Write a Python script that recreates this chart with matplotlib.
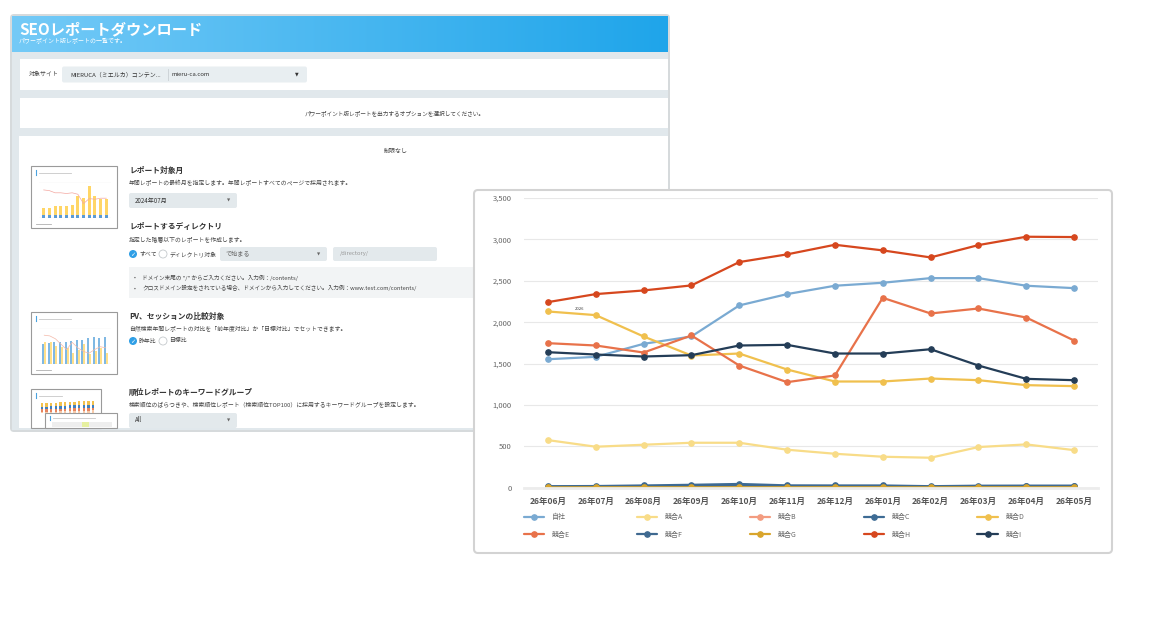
import numpy as np
import matplotlib.pyplot as plt
from matplotlib.patches import FancyBboxPatch, Rectangle, Circle
from matplotlib.colors import LinearSegmentedColormap

plt.rcParams['font.family'] = ['Noto Sans CJK JP', 'DejaVu Sans']

# メインチャートのデータ
months = ['26年06月', '26年07月', '26年08月', '26年09月', '26年10月', '26年11月',
          '26年12月', '26年01月', '26年02月', '26年03月', '26年04月', '26年05月']
series_names = ['自社', '競合A', '競合B', '競合C', '競合D',
                '競合E', '競合F', '競合G', '競合H', '競合I']
jisha = [1552, 1581, 1738, 1827, 2202, 2339, 2440, 2476, 2532, 2532, 2440, 2411]
kyogo_a = [575, 495, 519, 543, 543, 459, 410, 374, 362, 491, 523, 454]
kyogo_b = [0, 0, 0, 0, 0, 0, 0, 0, 0, 0, 0, 0]
kyogo_c = [18, 20, 27, 35, 45, 28, 27, 27, 18, 24, 25, 25]
kyogo_d = [2129, 2085, 1827, 1597, 1621, 1428, 1283, 1283, 1319, 1299, 1239, 1227]
kyogo_e = [1746, 1718, 1633, 1839, 1476, 1275, 1356, 2294, 2105, 2165, 2056, 1778]
kyogo_f = [10, 12, 16, 20, 26, 16, 16, 16, 10, 14, 15, 15]
kyogo_g = [4, 5, 5, 5, 5, 5, 5, 5, 4, 5, 5, 5]
kyogo_h = [2242, 2339, 2383, 2444, 2726, 2819, 2935, 2867, 2782, 2931, 3032, 3028]
kyogo_i = [1637, 1609, 1585, 1601, 1718, 1726, 1621, 1621, 1673, 1476, 1315, 1299]
yticks = [0, 500, 1000, 1500, 2000, 2500, 3000, 3500]

series_values = [jisha, kyogo_a, kyogo_b, kyogo_c, kyogo_d,
                 kyogo_e, kyogo_f, kyogo_g, kyogo_h, kyogo_i]
series_colors = ['#7aaad2', '#f8dc88', '#f39c80', '#3d6b94', '#f0c04e',
                 '#e8724a', '#3f6990', '#d9a52c', '#d6471e', '#243d57']

# サムネイル用の小さなデータ
thumb1_blue = [8, 8, 8, 8, 8, 8, 8, 8, 8, 8, 8, 8]
thumb1_yellow = [20, 20, 24, 25, 25, 27, 52, 48, 80, 52, 46, 45]
thumb1_line = [78, 76, 70, 70, 68, 70, 66, 40, 54, 52, 55, 55]
thumb2_blue = [55, 58, 60, 60, 62, 64, 66, 68, 72, 74, 73, 74]
thumb2_yellow = [60, 62, 50, 48, 45, 30, 40, 55, 28, 35, 45, 30]
thumb2_line = [80, 78, 70, 55, 40, 60, 45, 35, 30, 40, 48, 45]
thumb3_values = [62, 62, 63, 63, 64, 65, 66, 66, 67, 67, 67, 68]

W, H = 1160, 618
fig = plt.figure(figsize=(W / 100, H / 100), dpi=100)
fig.patch.set_facecolor('white')

bg = fig.add_axes([0, 0, 1, 1])
bg.set_xlim(0, W)
bg.set_ylim(H, 0)
bg.axis('off')


def px_axes(x0, y0, x1, y1):
    return fig.add_axes([x0 / W, 1 - y1 / H, (x1 - x0) / W, (y1 - y0) / H])


def box(x0, y0, x1, y1, fc, ec='none', lw=0, r=0, z=1):
    if r:
        p = FancyBboxPatch((x0, y0), x1 - x0, y1 - y0, boxstyle=f'round,pad=0,rounding_size={r}',
                           fc=fc, ec=ec, lw=lw, zorder=z)
    else:
        p = Rectangle((x0, y0), x1 - x0, y1 - y0, fc=fc, ec=ec, lw=lw, zorder=z)
    bg.add_patch(p)


# 背面パネル
box(10, 14, 670, 432, '#d6dadc', r=4, z=0)
box(12, 16, 668, 430, '#e1e8ec', z=1)
grad = LinearSegmentedColormap.from_list('hdr', ['#74caf7', '#1fa5ea'])
bg.imshow(np.linspace(0, 1, 256).reshape(1, -1), cmap=grad, aspect='auto',
          extent=(12, 668, 52, 16), zorder=2)
bg.text(19, 29, 'SEOレポートダウンロード', color='white', fontsize=11, fontweight='bold',
        va='center', zorder=3)
bg.text(19, 40.5, 'パワーポイント版レポートの一覧です。', color='white', fontsize=4.3,
        va='center', zorder=3)

box(20, 59, 668, 90, 'white', z=2)
bg.text(29, 74.5, '対象サイト', fontsize=4.3, color='#444', va='center', zorder=3)
box(62, 66.5, 307, 82.5, '#e8eef1', r=2, z=3)
bg.text(70, 74.5, 'MIERUCA（ミエルカ）コンテン...', fontsize=4.3, color='#333', va='center', zorder=4)
bg.plot([167.5, 167.5], [69, 80], color='#c9d0d4', lw=0.6, zorder=4)
bg.text(172, 74.5, 'mieru-ca.com', fontsize=4.3, color='#333', va='center', zorder=4)
bg.text(297, 74, '▼', fontsize=3.4, color='#333', ha='center', va='center',
        family=['DejaVu Sans'], zorder=4)

box(20, 98, 668, 128, 'white', z=2)
bg.text(395, 113, 'パワーポイント版レポートを出力するオプションを選択してください。',
        fontsize=4.1, color='#444', ha='center', va='center', zorder=3)

box(19, 136, 668, 428, 'white', z=2)
bg.text(396, 151, '制限なし', fontsize=4.3, color='#444', ha='center', va='center', zorder=3)

title_kw = dict(fontsize=5.6, fontweight='bold', color='#333', va='center', zorder=3)
sub_kw = dict(fontsize=4.2, color='#444', va='center', zorder=3)


def dropdown(x0, y0, x1, y1, label, color='#333'):
    box(x0, y0, x1, y1, '#e3e9ec', r=2, z=3)
    bg.text(x0 + 6, (y0 + y1) / 2, label, fontsize=4.4, color=color, va='center', zorder=4)
    bg.text(x1 - 8, (y0 + y1) / 2, '▼', fontsize=3, color='#666', ha='center', va='center',
            family=['DejaVu Sans'], zorder=4)


def radio(x, y, checked):
    if checked:
        bg.add_patch(Circle((x, y), 4, fc='#2f9fe6', ec='none', zorder=4))
        bg.text(x, y + 0.3, '✓', fontsize=4.5, color='white', ha='center', va='center',
                family=['DejaVu Sans'], fontweight='bold', zorder=5)
    else:
        bg.add_patch(Circle((x, y), 4, fc='white', ec='#c4c9cc', lw=0.6, zorder=4))


bg.text(129, 170, 'レポート対象月', **title_kw)
bg.text(129, 183, '年間レポートの最終月を指定します。年間レポートすべてのページで採用されます。', **sub_kw)
dropdown(129, 193, 237, 208, '2024年07月')

bg.text(129, 226, 'レポートするディレクトリ', **title_kw)
bg.text(129, 239, '指定した階層以下のレポートを作成します。', **sub_kw)
radio(133, 254, True)
bg.text(139, 254, 'すべて', **sub_kw)
radio(163, 254, False)
bg.text(169, 254, 'ディレクトリ対象', **sub_kw)
dropdown(220, 247, 327, 261, 'で始まる', color='#666')
box(333, 247, 437, 261, '#e3e9ec', r=2, z=3)
bg.text(340, 254, '/directory/', fontsize=4.2, color='#999', va='center', zorder=4)
box(129, 267, 668, 298, '#f2f4f5', z=3)
bg.text(134, 277.5, '•', fontsize=4, color='#555', va='center', zorder=4)
bg.text(142, 277.5, 'ドメイン末尾の "/" からご入力ください。入力例：/contents/', fontsize=4.1,
        color='#444', va='center', zorder=4)
bg.text(134, 288, '•', fontsize=4, color='#555', va='center', zorder=4)
bg.text(142, 288, 'クロスドメイン設定をされている場合、ドメインから入力してください。入力例：www.test.com/contents/',
        fontsize=4.1, color='#444', va='center', zorder=4)

bg.text(129, 316.5, 'PV、セッションの比較対象', **title_kw)
bg.text(129, 328.5, '自然検索年間レポートの対比を「前年度対比」か「目標対比」でセットできます。', **sub_kw)
radio(133, 341, True)
bg.text(139, 341, '昨年比', **sub_kw)
radio(163, 341, False)
bg.text(169, 341, '目標比', **sub_kw)

bg.text(129, 392.5, '順位レポートのキーワードグループ', **title_kw)
bg.text(129, 404.5, '検索順位のばらつきや、検索順位レポート（検索順位TOP100）に採用するキーワードグループを設定します。',
        **sub_kw)
dropdown(129, 413, 237, 428, 'All')


# サムネイル
def thumb(x0, y0, x1, y1):
    box(x0, y0, x1, y1, 'white', ec='#9a9a9a', lw=0.8, z=3)
    ax = px_axes(x0 + 8, y0 + 16, x1 - 6, y1 - 10)
    ax.set_facecolor('none')
    ax.tick_params(left=False, bottom=False, labelleft=False, labelbottom=False)
    for s in ax.spines.values():
        s.set_visible(False)
    ax.grid(axis='y', color='#eeeeee', lw=0.3)
    ax.set_axisbelow(True)
    bg.plot([x0 + 5, x0 + 5], [y0 + 4, y0 + 9], color='#4aa3df', lw=0.8, zorder=4)
    bg.plot([x0 + 8, x0 + 40], [y0 + 6.5, y0 + 6.5], color='#c8c8c8', lw=0.6, zorder=4)
    bg.plot([x0 + 5, x0 + 20], [y1 - 4, y1 - 4], color='#b0b0b0', lw=0.6, zorder=4)
    return ax


xs = np.arange(len(thumb1_blue))
t1 = thumb(31, 166, 117, 228)
t1.bar(xs, thumb1_blue, width=0.5, color='#5b9bd5')
t1.bar(xs, thumb1_yellow, bottom=thumb1_blue, width=0.5, color='#ffd666')
t1.plot(xs, thumb1_line, color='#f4a7a0', lw=0.5)
t1.set_ylim(0, 100)

t2 = thumb(31, 312, 117, 374)
t2.bar(xs - 0.18, thumb2_blue, width=0.34, color='#7fb8e3')
t2.bar(xs + 0.18, thumb2_yellow, width=0.34, color='#ffe08a')
t2.plot(xs, thumb2_line, color='#f4b8a8', lw=0.5)
t2.set_ylim(0, 100)

box(31, 389, 101, 428, 'white', ec='#9a9a9a', lw=0.8, z=3)
bg.plot([36, 36], [393, 398], color='#4aa3df', lw=0.8, zorder=4)
bg.plot([39, 62], [395.5, 395.5], color='#c8c8c8', lw=0.6, zorder=4)
t3 = px_axes(38, 400, 97, 412.5)
t3.set_facecolor('none')
t3.axis('off')
parts = [0.52, 0.12, 0.1, 0.12, 0.14]
part_colors = ['#e6e6e6', '#f7c9a8', '#e7845e', '#3f7fbf', '#f2c14e']
bottom = np.zeros(len(thumb3_values))
for frac, c in zip(parts, part_colors):
    h = np.array(thumb3_values) * frac
    t3.bar(xs, h, bottom=bottom, width=0.5, color=c)
    bottom += h
t3.set_ylim(38, 70)
box(45, 413, 117, 428, 'white', ec='#9a9a9a', lw=0.8, z=3)
bg.plot([50, 50], [416, 420], color='#4aa3df', lw=0.8, zorder=4)
bg.plot([53, 95], [418, 418], color='#c8c8c8', lw=0.6, zorder=4)
box(52, 422, 112, 427, '#eeeeee', z=4)
box(82, 422, 89, 427, '#e6f0a0', z=5)

# グラフカード
box(474, 190, 1112, 553, 'white', ec='#d3d3d3', lw=1.5, r=4, z=10)

ax = px_axes(524, 198, 1098, 487.7)
ax.set_facecolor('none')
lines = []
for name, vals, c in zip(series_names, series_values, series_colors):
    ln, = ax.plot(range(len(months)), vals, color=c, lw=1.6, marker='o', markersize=3.8,
                  label=name, solid_capstyle='round')
    lines.append(ln)

ax.set_xlim(-0.5, 11.5)
ax.set_ylim(0, 3500)
ax.set_yticks(yticks)
ax.set_yticklabels([f'{v:,}' for v in yticks], fontsize=5.5, color='#666')
ax.set_xticks(range(len(months)))
ax.set_xticklabels(months, fontsize=6.1, color='#555', fontweight='bold')
ax.tick_params(axis='both', length=0)
ax.tick_params(axis='y', pad=9)
ax.tick_params(axis='x', pad=7)
ax.grid(axis='y', color='#e8e8e8', lw=0.8)
ax.set_axisbelow(True)
for side in ['top', 'right', 'left']:
    ax.spines[side].set_visible(False)
ax.spines['bottom'].set_color('#ececec')
ax.spines['bottom'].set_linewidth(2)

ax.text(0.65, 2160, '2026', fontsize=3, color='#333', ha='center', va='center')

# 凡例は行方向に並べる (matplotlib は列方向に埋めるので並べ替え)
order = [0, 5, 1, 6, 2, 7, 3, 8, 4, 9]
leg = ax.legend([lines[i] for i in order], [series_names[i] for i in order],
                ncol=5, loc='upper left', bbox_to_anchor=(524 / W, 1 - 513.5 / H),
                bbox_transform=fig.transFigure, frameon=False, fontsize=5,
                handlelength=2.95, handletextpad=1.1, columnspacing=9.6,
                labelspacing=1.3, borderpad=0, borderaxespad=0)
for t in leg.get_texts():
    t.set_color('#666')

fig.savefig('out.png', dpi=100, facecolor='white')
